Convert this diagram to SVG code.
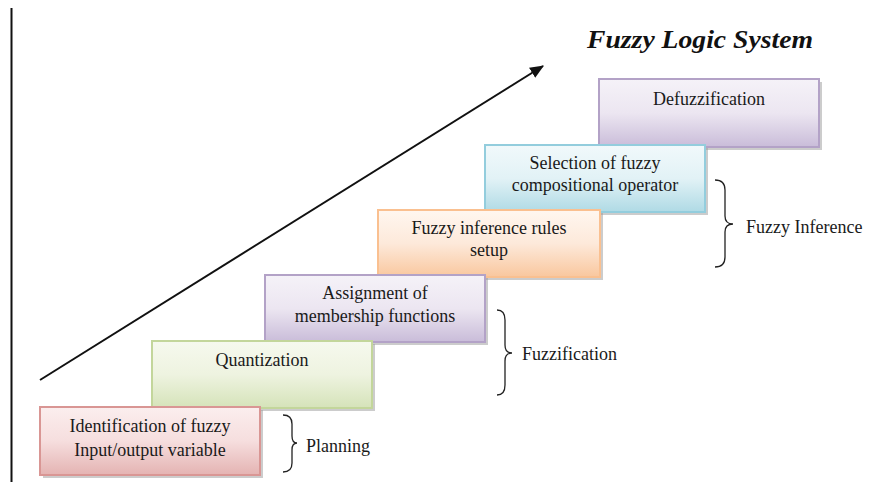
<svg xmlns="http://www.w3.org/2000/svg" width="877" height="482" viewBox="0 0 877 482">
<style>
.t{font-family:'Liberation Serif','DejaVu Serif',serif;font-size:18px;fill:#1a1a1a;text-anchor:middle}
.l{font-family:'Liberation Serif','DejaVu Serif',serif;font-size:18px;fill:#1a1a1a}
.ttl{font-family:'Liberation Serif','DejaVu Serif',serif;font-size:26px;font-weight:bold;font-style:italic;fill:#111;text-anchor:end}
.br{fill:none;stroke:#222;stroke-width:1.3}
.box{stroke-width:2}
.sh{fill:#9a9a9a;opacity:0.5}
</style>
<defs>
<linearGradient id="gr" x1="0" y1="0" x2="0" y2="1"><stop offset="0" stop-color="#fbeeee"/><stop offset="0.5" stop-color="#f6dede"/><stop offset="1" stop-color="#e4b3b2"/></linearGradient>
<linearGradient id="gg" x1="0" y1="0" x2="0" y2="1"><stop offset="0" stop-color="#f6f9ee"/><stop offset="0.5" stop-color="#eef3e0"/><stop offset="1" stop-color="#d5e3b9"/></linearGradient>
<linearGradient id="gp" x1="0" y1="0" x2="0" y2="1"><stop offset="0" stop-color="#f5f2f8"/><stop offset="0.5" stop-color="#ece6f1"/><stop offset="1" stop-color="#c9bcd9"/></linearGradient>
<linearGradient id="go" x1="0" y1="0" x2="0" y2="1"><stop offset="0" stop-color="#fff7f0"/><stop offset="0.5" stop-color="#fde9da"/><stop offset="1" stop-color="#f9c79e"/></linearGradient>
<linearGradient id="gc" x1="0" y1="0" x2="0" y2="1"><stop offset="0" stop-color="#f1f9fb"/><stop offset="0.5" stop-color="#e2f2f6"/><stop offset="1" stop-color="#afdae5"/></linearGradient>
<marker id="ah2" viewBox="0 0 12 10" refX="11" refY="5" markerWidth="14" markerHeight="12" orient="auto" markerUnits="userSpaceOnUse"><path d="M0,0 L12,5 L0,10 z" fill="#111"/></marker>
</defs>
<rect width="877" height="482" fill="#fff"/>
<line x1="11.5" y1="8" x2="11.5" y2="482" stroke="#111" stroke-width="2"/>
<text class="ttl" x="813" y="48" textLength="226" lengthAdjust="spacingAndGlyphs">Fuzzy Logic System</text>
<g id="connectors">
<line x1="40" y1="380" x2="543" y2="66" stroke="#111" stroke-width="2" marker-end="url(#ah2)"/>
</g>
<g id="n6"><rect class="sh" x="602" y="82" width="220" height="68"/><rect class="box" x="599" y="79" width="220" height="68" fill="url(#gp)" stroke="#b3a2c7"/><text class="t" x="709" y="105">Defuzzification</text></g>
<g id="n5"><rect class="sh" x="488" y="148" width="220" height="67"/><rect class="box" x="485" y="145" width="220" height="67" fill="url(#gc)" stroke="#93cddd"/><text class="t" x="595" y="169">Selection of fuzzy</text><text class="t" x="595" y="191">compositional operator</text></g>
<g id="n4"><rect class="sh" x="381" y="213" width="222" height="67"/><rect class="box" x="378" y="210" width="222" height="67" fill="url(#go)" stroke="#fac090"/><text class="t" x="489" y="234">Fuzzy inference rules</text><text class="t" x="489" y="256">setup</text></g>
<g id="n3"><rect class="sh" x="268" y="278" width="220" height="67"/><rect class="box" x="265" y="275" width="220" height="67" fill="url(#gp)" stroke="#b3a2c7"/><text class="t" x="375" y="299">Assignment of</text><text class="t" x="375" y="322">membership functions</text></g>
<g id="n2"><rect class="sh" x="155" y="344" width="220" height="67"/><rect class="box" x="152" y="341" width="220" height="67" fill="url(#gg)" stroke="#c3d69b"/><text class="t" x="262" y="366">Quantization</text></g>
<g id="n1"><rect class="sh" x="43" y="410" width="220" height="68"/><rect class="box" x="40" y="407" width="220" height="68" fill="url(#gr)" stroke="#d99694"/><text class="t" x="150" y="432">Identification of fuzzy</text><text class="t" x="150" y="456">Input/output variable</text></g>
<g id="b1"><path class="br" d="M283,415 Q292,415 292,424 L292,436 Q292,443 297,443 Q292,443 292,450 L292,463 Q292,472 283,472"/><text class="l" x="306" y="452">Planning</text></g>
<g id="b2"><path class="br" d="M497,310 Q505,310 505,320 L505,345 Q505,353 512,353 Q505,353 505,361 L505,385 Q505,395 497,395"/><text class="l" x="522" y="360">Fuzzification</text></g>
<g id="b3"><path class="br" d="M715,180 Q725,180 725,190 L725,216 Q725,224 733,224 Q725,224 725,232 L725,257 Q725,267 715,267"/><text class="l" x="746" y="233">Fuzzy Inference</text></g>
</svg>
